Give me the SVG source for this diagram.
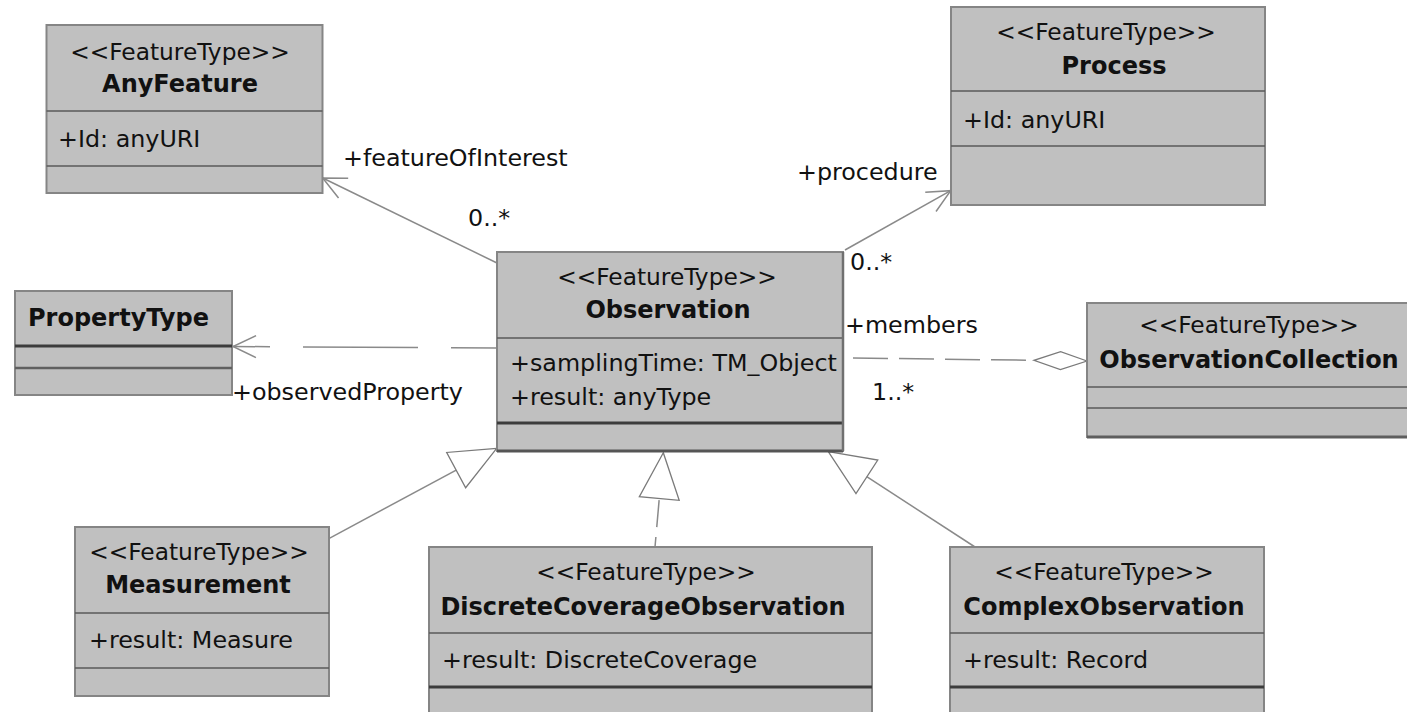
<svg xmlns="http://www.w3.org/2000/svg" width="1407" height="712" viewBox="0 0 1407 712">
<style>
.box{fill:#c0c0c0;stroke:#858585;stroke-width:2}
.dv{stroke:#5a5a5a;stroke-width:1.5;fill:none}
.dd{stroke:#3c3c3c;stroke-width:3;fill:none}
.t{font-family:"DejaVu Sans",Verdana,sans-serif;font-size:23.8px;fill:#111}
.s{font-size:23.3px}
.b{font-weight:bold;font-size:24px}
.m{text-anchor:middle}
.c{stroke:#8a8a8a;stroke-width:1.5;fill:none}
</style>
<defs>
<marker id="open" markerUnits="userSpaceOnUse" markerWidth="30" markerHeight="30" viewBox="-26 -14 30 28" refX="0" refY="0" orient="auto">
<path d="M -23 -11 L 0 0 L -23 11" fill="none" stroke="#8a8a8a" stroke-width="1.5"/>
</marker>
<marker id="gen" markerUnits="userSpaceOnUse" markerWidth="52" markerHeight="46" viewBox="-49 -23 52 46" refX="0" refY="0" orient="auto">
<path d="M 0 0 L -46 -20 L -46 20 Z" fill="#ffffff" stroke="#7a7a7a" stroke-width="1.3"/>
</marker>
<marker id="agg" markerUnits="userSpaceOnUse" markerWidth="58" markerHeight="24" viewBox="-56 -12 58 24" refX="0" refY="0" orient="auto">
<path d="M 0 0 L -26.5 -9 L -53 0 L -26.5 9 Z" fill="#ffffff" stroke="#7a7a7a" stroke-width="1.3"/>
</marker>
</defs>
<rect width="1407" height="712" fill="#ffffff"/>

<g id="connectors">
<path class="c" d="M 497 263 L 322.7 178" marker-end="url(#open)"/>
<path class="c" d="M 845 250 L 950.7 190.7" marker-end="url(#open)"/>
<path class="c" d="M 497 348 L 233 346.5" stroke-dasharray="46 33 115 33 40" marker-end="url(#open)"/>
<path class="c" d="M 853 358 L 1087 361" stroke-dasharray="35 11" marker-end="url(#agg)"/>
<path class="c" d="M 329.3 538.3 L 496.7 448.3" marker-end="url(#gen)"/>
<path class="c" d="M 655 547 L 663.3 452.7" stroke-dasharray="10 10 27 200" marker-end="url(#gen)"/>
<path class="c" d="M 975 547 L 828.3 451.7" marker-end="url(#gen)"/>
</g>

<g id="AnyFeature">
<rect class="box" x="46.5" y="25" width="276" height="168"/>
<line class="dv" x1="46.5" y1="111" x2="322.5" y2="111"/>
<line class="dv" x1="46.5" y1="166" x2="322.5" y2="166"/>
<text class="t s m" x="180" y="60">&lt;&lt;FeatureType&gt;&gt;</text>
<text class="t b m" x="180" y="92">AnyFeature</text>
<text class="t" x="58" y="147">+Id: anyURI</text>
</g>

<g id="Process">
<rect class="box" x="951" y="7" width="314" height="198"/>
<line class="dv" x1="951" y1="91" x2="1265" y2="91"/>
<line class="dv" x1="951" y1="146" x2="1265" y2="146"/>
<text class="t s m" x="1106" y="40">&lt;&lt;FeatureType&gt;&gt;</text>
<text class="t b m" x="1114" y="74">Process</text>
<text class="t" x="963" y="128">+Id: anyURI</text>
</g>

<g id="Observation">
<rect class="box" x="497" y="252" width="346" height="199"/>
<line class="dv" x1="497" y1="338" x2="843" y2="338"/>
<line class="dd" x1="497" y1="423" x2="843" y2="423"/>
<line stroke="#555" stroke-width="3" x1="497" y1="451" x2="843" y2="451"/>
<line stroke="#707070" stroke-width="2.5" x1="843" y1="252" x2="843" y2="451"/>
<text class="t s m" x="667" y="285">&lt;&lt;FeatureType&gt;&gt;</text>
<text class="t b m" x="668" y="318">Observation</text>
<text class="t" x="510" y="371">+samplingTime: TM_Object</text>
<text class="t" x="510" y="405">+result: anyType</text>
</g>

<g id="PropertyType">
<rect class="box" x="15" y="291" width="217" height="104"/>
<line class="dd" x1="15" y1="346" x2="232" y2="346"/>
<line stroke="#606060" stroke-width="2.5" x1="15" y1="368" x2="232" y2="368"/>
<text class="t b" x="28" y="326">PropertyType</text>
</g>

<g id="ObservationCollection">
<rect class="box" x="1087" y="303" width="324" height="134"/>
<line class="dv" x1="1087" y1="387" x2="1411" y2="387" stroke-width="2"/>
<line class="dv" x1="1087" y1="408" x2="1411" y2="408"/>
<line stroke="#5e5e5e" stroke-width="3" x1="1087" y1="437" x2="1411" y2="437"/>
<text class="t s m" x="1249" y="333">&lt;&lt;FeatureType&gt;&gt;</text>
<text class="t b m" x="1249" y="368">ObservationCollection</text>
</g>

<g id="Measurement">
<rect class="box" x="75" y="527" width="254" height="169"/>
<line class="dv" x1="75" y1="613" x2="329" y2="613"/>
<line class="dv" x1="75" y1="668" x2="329" y2="668"/>
<text class="t s m" x="199" y="560">&lt;&lt;FeatureType&gt;&gt;</text>
<text class="t b m" x="198" y="593">Measurement</text>
<text class="t" x="89" y="648">+result: Measure</text>
</g>

<g id="DiscreteCoverageObservation">
<rect class="box" x="429" y="547" width="443" height="200"/>
<line class="dv" x1="429" y1="633" x2="872" y2="633"/>
<line class="dd" x1="429" y1="687" x2="872" y2="687"/>
<text class="t s m" x="646" y="580">&lt;&lt;FeatureType&gt;&gt;</text>
<text class="t b m" x="643" y="615">DiscreteCoverageObservation</text>
<text class="t" x="442" y="668">+result: DiscreteCoverage</text>
</g>

<g id="ComplexObservation">
<rect class="box" x="950" y="547" width="314" height="200"/>
<line class="dv" x1="950" y1="633" x2="1264" y2="633"/>
<line class="dd" x1="950" y1="687" x2="1264" y2="687"/>
<text class="t s m" x="1104" y="580">&lt;&lt;FeatureType&gt;&gt;</text>
<text class="t b m" x="1104" y="615">ComplexObservation</text>
<text class="t" x="963" y="668">+result: Record</text>
</g>

<g id="labels">
<text class="t" x="343" y="166">+featureOfInterest</text>
<text class="t" x="468" y="226">0..*</text>
<text class="t" x="797" y="180">+procedure</text>
<text class="t" x="850" y="270">0..*</text>
<text class="t" x="845" y="333">+members</text>
<text class="t" x="872" y="400">1..*</text>
<text class="t" x="232" y="400">+observedProperty</text>
</g>
</svg>
